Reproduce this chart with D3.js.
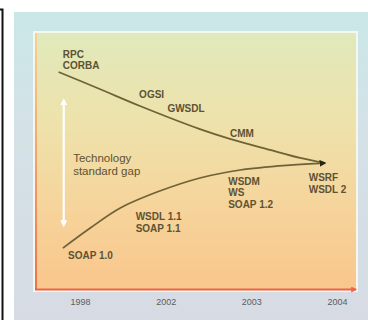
<!DOCTYPE html>
<html><head><meta charset="utf-8">
<script src="https://cdn.jsdelivr.net/npm/d3@7"></script>
<style>
html,body{margin:0;padding:0;background:#fff;}
svg{display:block;}
</style></head>
<body>
<svg id="c" width="368" height="320"></svg>
<script>
// ---- data ----
const years = ["1998", "2002", "2003", "2004"];
// x in year-position units (0 = 1998 tick, 3 = 2004 tick), y = relative standard level (0-100)
const techX = [-0.25, 0.23, 0.70, 1.40, 1.75, 2.22, 2.57, 2.86];
const techY = [84.8, 78.2, 71.6, 62.6, 58.8, 54.5, 51.4, 49.4];
const stdX  = [-0.20, 0.12, 0.47, 0.93, 1.40, 1.87, 2.45, 2.86];
const stdY  = [16.3, 24.1, 31.9, 38.5, 43.6, 46.7, 48.6, 49.4];
const labelText = [["RPC","CORBA"],["OGSI"],["GWSDL"],["CMM"],["WSRF","WSDL 2"],["WSDM","WS","SOAP 1.2"],["WSDL 1.1","SOAP 1.1"],["SOAP 1.0"]];
const labelX = [-0.20, 0.69, 1.02, 1.75, 2.67, 1.73, 0.65, -0.14];
const labelY = [90.3, 74.7, 69.3, 59.5, 42.4, 40.9, 27.2, 12.1];
const gapText = ["Technology", "standard gap"];
const gapX = -0.08, gapY = 49.8;
const gapArrowX = -0.19, gapArrowY = [73.5, 25.5];

// ---- layout ----
const svg = d3.select("#c");
const P = {l: 35, t: 33, r: 356, b: 290};
const x = d3.scaleLinear().domain([0, 3]).range([80, 337]);
const xBand = d3.scalePoint().domain(years).range([80, 337]);
const y = d3.scaleLinear().domain([0, 100]).range([P.b, P.t]);

const defs = svg.append("defs");
const g1 = defs.append("linearGradient").attr("id","outer").attr("x1",0).attr("y1",0).attr("x2",0).attr("y2",1);
g1.append("stop").attr("offset","0%").attr("stop-color","#cae7e6");
g1.append("stop").attr("offset","35%").attr("stop-color","#d3e2e6");
g1.append("stop").attr("offset","100%").attr("stop-color","#d7dbe4");
const g2 = defs.append("linearGradient").attr("id","inner").attr("x1",0).attr("y1",0).attr("x2",0).attr("y2",1);
g2.append("stop").attr("offset","0%").attr("stop-color","#e0e9bb");
g2.append("stop").attr("offset","35%").attr("stop-color","#eee2ab");
g2.append("stop").attr("offset","70%").attr("stop-color","#f6d39a");
g2.append("stop").attr("offset","100%").attr("stop-color","#f9c68c");
const g3 = defs.append("linearGradient").attr("id","leftEdge").attr("x1",0).attr("y1",0).attr("x2",0).attr("y2",1);
g3.append("stop").attr("offset","0%").attr("stop-color","#f8d090");
g3.append("stop").attr("offset","100%").attr("stop-color","#ef7048");

defs.append("marker").attr("id","darrow").attr("viewBox","0 0 10 10").attr("refX",8).attr("refY",5)
  .attr("markerWidth",4).attr("markerHeight",4).attr("orient","auto")
  .append("path").attr("d","M0,0L10,5L0,10z").attr("fill","#2a2212");
defs.append("marker").attr("id","warrow").attr("viewBox","0 0 10 10").attr("refX",6).attr("refY",5)
  .attr("markerWidth",3.2).attr("markerHeight",3.2).attr("orient","auto-start-reverse")
  .append("path").attr("d","M0,0L10,5L0,10z").attr("fill","#ffffff");
defs.append("marker").attr("id","oarrow").attr("viewBox","0 0 10 10").attr("refX",8).attr("refY",5)
  .attr("markerWidth",3).attr("markerHeight",3).attr("orient","auto")
  .append("path").attr("d","M0,0L10,5L0,10z").attr("fill","#ee6444");

// frame
svg.append("path").attr("d","M0,9.5H2.5V320").attr("fill","none").attr("stroke","#111").attr("stroke-width",2);
// outer panel
svg.append("rect").attr("x",14).attr("y",12).attr("width",354).attr("height",308).attr("fill","url(#outer)");
// inner plot
svg.append("rect").attr("x",P.l-1).attr("y",P.t-1).attr("width",P.r-P.l+2).attr("height",P.b-P.t+2)
  .attr("fill","none").attr("stroke","#f4f7ee").attr("stroke-width",2);
svg.append("rect").attr("x",P.l).attr("y",P.t).attr("width",P.r-P.l).attr("height",P.b-P.t).attr("fill","url(#inner)");
svg.append("rect").attr("x",P.l).attr("y",P.t).attr("width",2).attr("height",P.b-P.t).attr("fill","url(#leftEdge)");
svg.append("line").attr("x1",P.l).attr("x2",P.r).attr("y1",P.b-0.5).attr("y2",P.b-0.5)
  .attr("stroke","#ee6444").attr("stroke-width",2).attr("marker-end","url(#oarrow)");

// axis
const ax = svg.append("g").attr("transform",`translate(0,${P.b})`)
  .call(d3.axisBottom(xBand).tickSize(0).tickPadding(9));
ax.select(".domain").remove();
ax.selectAll("text").attr("font-family","Liberation Sans, Arial, sans-serif").attr("font-size",9).attr("fill","#5c5c5c");

// lines
const line = d3.line().x(d => x(d[0])).y(d => y(d[1])).curve(d3.curveCatmullRom.alpha(0.5));
const tech = techX.map((v,i) => [v, techY[i]]);
const std = stdX.map((v,i) => [v, stdY[i]]);
svg.append("path").attr("d", line(tech)).attr("fill","none").attr("stroke","#6e6236").attr("stroke-width",1.7);
svg.append("path").attr("d", line(std)).attr("fill","none").attr("stroke","#6e6236").attr("stroke-width",1.7)
  .attr("marker-end","url(#darrow)");

// gap arrow
svg.append("line").attr("x1",x(gapArrowX)).attr("x2",x(gapArrowX)).attr("y1",y(gapArrowY[0])).attr("y2",y(gapArrowY[1]))
  .attr("stroke","#ffffff").attr("stroke-width",2.2)
  .attr("marker-start","url(#warrow)").attr("marker-end","url(#warrow)");

// labels
const lab = svg.append("g").attr("font-family","Liberation Sans, Arial, sans-serif").attr("font-size",10)
  .attr("font-weight","bold").attr("fill","#5e5232");
labelText.forEach((lines,i) => {
  const t = lab.append("text").attr("x", x(labelX[i])).attr("y", y(labelY[i]));
  lines.forEach((s,j) => t.append("tspan").attr("x", x(labelX[i])).attr("dy", j ? 11.5 : 0).text(s));
});
const gt = svg.append("text").attr("font-family","Liberation Sans, Arial, sans-serif").attr("font-size",11.5)
  .attr("fill","#5e5232").attr("x", x(gapX)).attr("y", y(gapY));
gapText.forEach((s,j) => gt.append("tspan").attr("x", x(gapX)).attr("dy", j ? 12.5 : 0).text(s));
</script>
</body></html>
